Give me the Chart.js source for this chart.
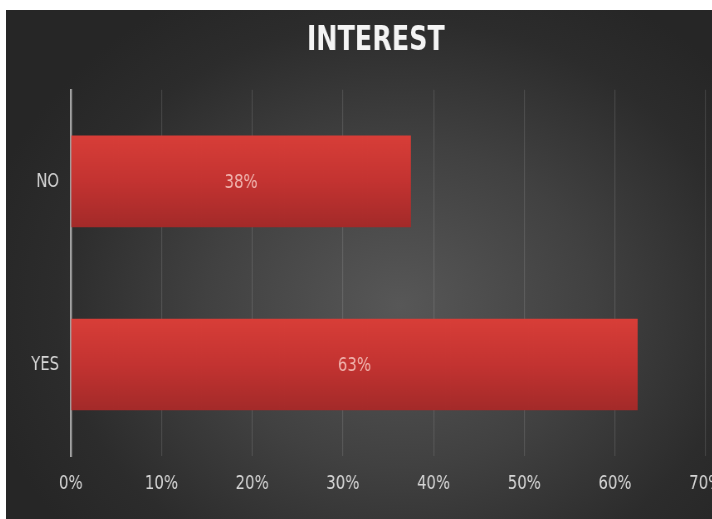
<!DOCTYPE html>
<html>
<head>
<meta charset="utf-8">
<script src="https://cdn.jsdelivr.net/npm/chart.js@4/dist/chart.umd.min.js"></script>
<style>
  html, body { margin: 0; padding: 0; background: #ffffff; width: 712px; height: 519px; overflow: hidden; }
  #frame {
    position: absolute; left: 6px; top: 10px; width: 716px; height: 509px; overflow: hidden;
    background: radial-gradient(ellipse 60% 70% at 55% 58%, #575757 0%, #414141 45%, #2c2c2c 80%, #262626 100%);
  }
  #c {
    position: absolute; left: 0; top: 0; width: 863px; height: 509px;
    transform: scaleX(0.83); transform-origin: 0 0;
  }
</style>
</head>
<body>
<div id="frame"><canvas id="c" width="863" height="509"></canvas></div>
<script>
const categories = ['NO', 'YES'];
const interestValues = [37.5, 62.5];
const tickValues = [0, 10, 20, 30, 40, 50, 60, 70];
const chartTitle = 'INTEREST';

const FONT = '"DejaVu Sans Condensed", "DejaVu Sans", sans-serif';

function barGradient(context) {
  const chart = context.chart;
  const yScale = chart.scales && chart.scales.y;
  if (!yScale || context.dataIndex === undefined) return '#c43431';
  const c = yScale.getPixelForValue(context.dataIndex);
  if (!isFinite(c)) return '#c43431';
  const half = 46;
  const g = chart.ctx.createLinearGradient(0, c - half, 0, c + half);
  g.addColorStop(0, '#d83e38');
  g.addColorStop(0.5, '#c33331');
  g.addColorStop(1, '#a32a29');
  return g;
}

const valueLabels = {
  id: 'valueLabels',
  afterDatasetsDraw(chart) {
    const ctx = chart.ctx;
    const meta = chart.getDatasetMeta(0);
    ctx.save();
    ctx.font = '20px ' + FONT;
    ctx.fillStyle = '#f0b4ae';
    ctx.textAlign = 'center';
    ctx.textBaseline = 'middle';
    meta.data.forEach((el, i) => {
      const v = chart.data.datasets[0].data[i];
      ctx.fillText(Math.round(v) + '%', (el.base + el.x) / 2, el.y + 1);
    });
    ctx.restore();
  }
};

new Chart(document.getElementById('c'), {
  type: 'bar',
  data: {
    labels: categories,
    datasets: [{
      data: interestValues,
      backgroundColor: barGradient,
      borderWidth: 0,
      barPercentage: 0.5,
      categoryPercentage: 1.0
    }]
  },
  options: {
    indexAxis: 'y',
    responsive: false,
    devicePixelRatio: 1,
    animation: false,
    layout: { padding: { left: 28, right: 0, top: 0, bottom: 7 } },
    plugins: {
      legend: { display: false },
      tooltip: { enabled: false },
      title: {
        display: true,
        text: chartTitle,
        color: '#f4f4f4',
        font: { family: FONT, size: 34, weight: 'bold' },
        padding: { top: 11, bottom: 28 }
      }
    },
    scales: {
      x: {
        type: 'linear',
        min: 0,
        max: 70,
        afterBuildTicks(scale) { scale.ticks = tickValues.map(v => ({ value: v })); },
        afterFit(scale) { scale.paddingRight = 20; },
        ticks: {
          color: '#d6d6d6',
          font: { family: FONT, size: 20 },
          padding: 16,
          maxRotation: 0,
          callback: v => v + '%'
        },
        grid: { color: 'rgba(255,255,255,0.13)', lineWidth: 1.2, drawTicks: false },
        border: { display: false }
      },
      y: {
        type: 'category',
        afterFit(scale) { scale.width = 50; },
        ticks: {
          color: '#d6d6d6',
          font: { family: FONT, size: 20 },
          padding: 14
        },
        grid: { display: false, drawTicks: false },
        border: { display: true, color: '#a4a4a4', width: 2.4 }
      }
    }
  },
  plugins: [valueLabels]
});
</script>
</body>
</html>
